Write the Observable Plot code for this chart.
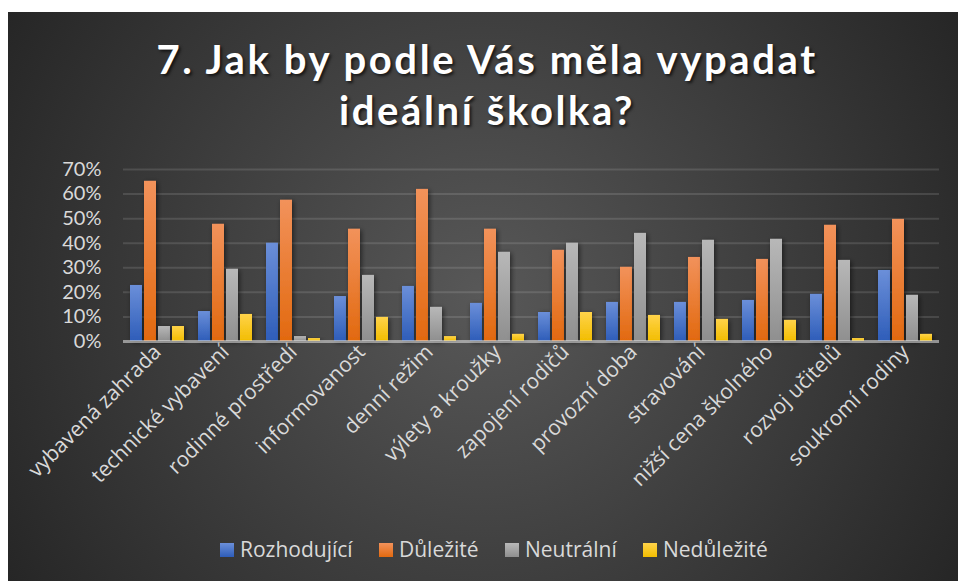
<!DOCTYPE html>
<html>
<head>
<meta charset="utf-8">
<script src="https://cdn.jsdelivr.net/npm/d3@7"></script>
<script src="https://cdn.jsdelivr.net/npm/@observablehq/plot@0.6"></script>
<style>
  html, body { margin: 0; padding: 0; background: #ffffff; width: 958px; height: 581px; overflow: hidden; }
  #card { position: absolute; left: 8px; top: 12px; width: 950px; height: 569px;
    background: radial-gradient(circle farthest-corner at 50% 50%, #585858 0%, #262626 100%); }
  #title { position: absolute; left: 8px; top: 34px; width: 958px; text-align: center;
    font-family: Lato, "Open Sans", sans-serif; font-weight: 700; font-size: 40px; letter-spacing: 2.6px;
    line-height: 51px; color: #ffffff; text-shadow: 2px 2px 3px rgba(0,0,0,0.65); }
  #chart { position: absolute; left: 0; top: 150px; }
  #chart g[aria-label^="fx-axis"] text { font-family: "Open Sans", sans-serif !important; font-size: 21px !important; }
  #chart g[aria-label^="y-axis"] text { font-family: Lato, sans-serif !important; font-size: 20px !important; }
  #legend { position: absolute; left: 0; top: 535px; width: 958px; height: 28px;
    font-family: "Open Sans", sans-serif; font-size: 21px; color: #d9d9d9; }
  .item { position: absolute; top: 0; white-space: nowrap; line-height: 28px; }
  .sw { position: absolute; top: 8px; width: 14px; height: 14px; }
</style>
</head>
<body>
<div id="card"></div>
<div id="title">7. Jak by podle Vás měla vypadat<br>ideální školka?</div>
<div id="chart"></div>
<div id="legend"></div>
<script>
// ---- data ----
const categories = ["vybavená zahrada", "technické vybavení", "rodinné prostředí", "informovanost",
  "denní režim", "výlety a kroužky", "zapojení rodičů", "provozní doba", "stravování",
  "nižší cena školného", "rozvoj učitelů", "soukromí rodiny"];
const seriesNames = ["Rozhodující", "Důležité", "Neutrální", "Nedůležité"];
const rozhodujici = [0.228, 0.122, 0.400, 0.183, 0.224, 0.155, 0.118, 0.159, 0.159, 0.167, 0.192, 0.289];
const dulezite    = [0.652, 0.477, 0.575, 0.457, 0.619, 0.457, 0.371, 0.302, 0.342, 0.334, 0.473, 0.497];
const neutralni   = [0.061, 0.294, 0.020, 0.269, 0.139, 0.363, 0.400, 0.440, 0.412, 0.416, 0.330, 0.188];
const nedulezite  = [0.061, 0.110, 0.012, 0.098, 0.020, 0.029, 0.118, 0.106, 0.090, 0.086, 0.012, 0.029];
const yTicks = [0, 0.1, 0.2, 0.3, 0.4, 0.5, 0.6, 0.7];

// ---- styling ----
const gradIds = ["gBlue", "gOrange", "gGray", "gYellow"];
const gradStops = [["#6b8fd9", "#2e5db9"], ["#f2925b", "#e2690f"], ["#b8b8b8", "#8f8f8f"], ["#ffd34a", "#f2bd00"]];
const swatch = ["linear-gradient(#6b8fd9,#2e5db9)", "linear-gradient(#f2925b,#e2690f)",
  "linear-gradient(#b8b8b8,#8f8f8f)", "linear-gradient(#ffd34a,#f2bd00)"];

const valuesBySeries = [rozhodujici, dulezite, neutralni, nedulezite];
const rows = [];
categories.forEach((c, i) => seriesNames.forEach((s, j) => rows.push({cat: c, series: s, value: valuesBySeries[j][i]})));

const chart = Plot.plot({
  width: 958,
  height: 370,
  marginLeft: 123,
  marginRight: 19,
  marginTop: 19,
  marginBottom: 179,
  style: {background: "transparent", color: "#d9d9d9", fontFamily: "'Open Sans', sans-serif", fontSize: "20px", overflow: "visible"},
  facet: {data: rows, x: "cat"},
  fx: {domain: categories, paddingInner: 0, paddingOuter: 0, axis: "bottom", tickRotate: -45, tickSize: 0, tickPadding: 7, label: null},
  x: {domain: seriesNames, paddingInner: 0.12, paddingOuter: 0.3745, axis: null},
  y: {domain: [0, 0.7], ticks: yTicks, tickFormat: d => Math.round(d * 100) + "%", tickSize: 0, tickPadding: 22, label: null},
  color: {domain: seriesNames, range: gradIds.map(id => `url(#${id})`)},
  marks: [
    Plot.ruleY(yTicks.slice(1), {stroke: "#ffffff", strokeOpacity: 0.12, strokeWidth: 2}),
    Plot.barY(rows, {x: "series", y: "value", fill: "series"}),
    Plot.ruleY([0], {stroke: "#d8d8d8", strokeOpacity: 0.6, strokeWidth: 3})
  ]
});

// gradients + shadow
const svg = d3.select(chart);
const defs = svg.insert("defs", ":first-child");
gradIds.forEach((id, k) => {
  const g = defs.append("linearGradient").attr("id", id).attr("x1", 0).attr("y1", 0).attr("x2", 0).attr("y2", 1);
  g.append("stop").attr("offset", "0%").attr("stop-color", gradStops[k][0]);
  g.append("stop").attr("offset", "100%").attr("stop-color", gradStops[k][1]);
});
defs.append("filter").attr("id", "shadow").attr("x", "-50%").attr("y", "-20%").attr("width", "200%").attr("height", "140%")
  .append("feDropShadow").attr("dx", 1.5).attr("dy", 1.5).attr("stdDeviation", 2.5).attr("flood-color", "#000").attr("flood-opacity", 0.55);
svg.selectAll("rect").filter(function() { return (this.getAttribute("fill") || "").startsWith("url("); })
  .attr("filter", "url(#shadow)");

document.getElementById("chart").appendChild(chart);

// legend
const legendX = [220, 379, 505, 643];
const legend = document.getElementById("legend");
seriesNames.forEach((s, k) => {
  const it = document.createElement("div");
  it.className = "item";
  it.style.left = legendX[k] + "px";
  it.innerHTML = `<span class="sw" style="left:0;background:${swatch[k]}"></span><span style="padding-left:20px">${s}</span>`;
  legend.appendChild(it);
});
</script>
</body>
</html>
